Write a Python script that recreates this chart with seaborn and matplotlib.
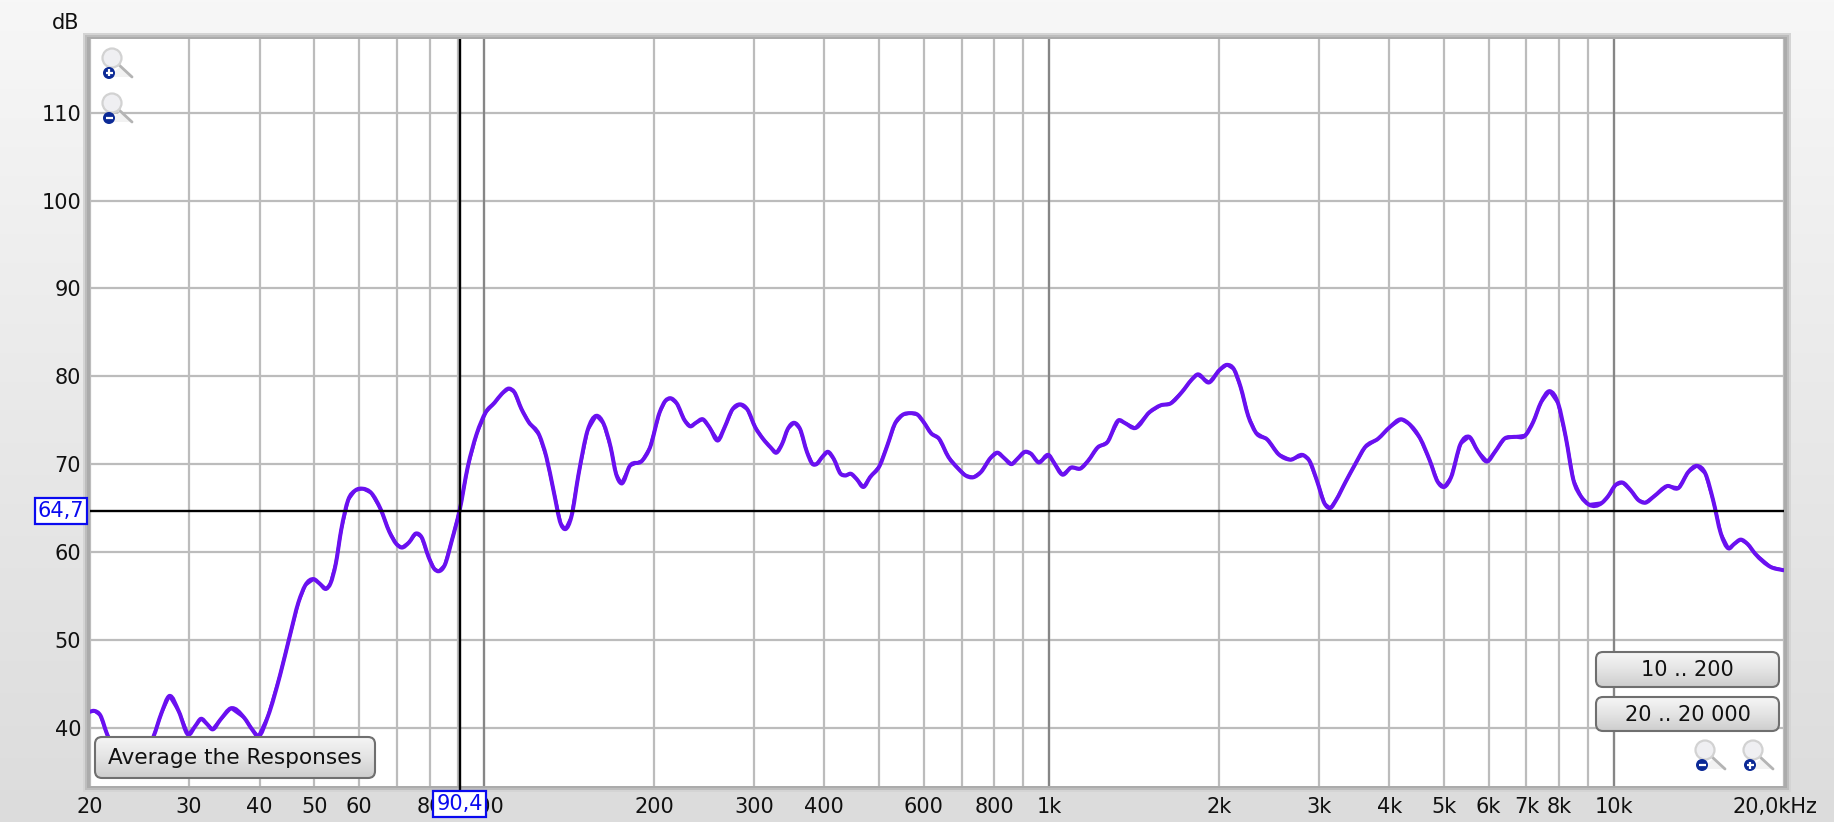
import numpy as np
import pandas as pd
import matplotlib
matplotlib.use("Agg")
import matplotlib.pyplot as plt
from matplotlib.patches import FancyBboxPatch, Circle, Polygon, Rectangle, PathPatch
from matplotlib.path import Path
from matplotlib.transforms import blended_transform_factory
import seaborn as sns

freq_hz = [20, 20.4, 20.9, 21.5, 22.5, 23.5, 24.6, 25.97, 26.8, 27.7, 28.8, 29.9, 30.8, 31.5, 32.3, 33.0, 34.1, 35.6, 37.6, 38.8, 39.8, 41.4, 43.5,
           45.2, 46.9, 48.2, 49.9, 51.1, 52.5, 53.4, 54.6, 55.8, 57.4, 59.1, 60.9, 63.1, 65.5, 67.9, 69.9, 71.4, 73.6, 75.7, 77.4, 79.7, 81.5, 83.0, 85.1, 87.6, 90.4, 93.5, 96.9,
           100.6, 104.3, 107.4, 110.6, 113, 116.3, 119.8, 125.1, 128.8, 132.6, 136.6, 139.2, 142.6, 146.9, 152.3, 157.9, 162.6, 167.4, 171.1, 174.9, 181, 190.4, 196.5,
           204.4, 209.2, 213.5, 219.2, 226.2, 231.5, 236.9, 243.8, 250.3, 259.4, 266.4, 274.8, 283.6, 292.4, 301.7, 311.3, 321.3, 328.9, 336.7, 344.6, 353.8, 362.2, 372.5, 381.3, 387.4, 396.5,
           405.9, 415.5, 427.3, 435.4, 445.7, 456.2, 469.2, 481.8, 501, 516.9, 533.3, 550.1, 567.6, 585.6, 599.3, 618.3, 638.1, 663.4, 690, 711.5, 734.1, 757.4, 787.5, 810, 832, 858.4, 878.7, 906.3, 927.8, 957.2,
           1000, 1019, 1056, 1093, 1137, 1173, 1219, 1268, 1328, 1360, 1420, 1505, 1577, 1640, 1718, 1787, 1829, 1920, 2002, 2065, 2124, 2182, 2251, 2322, 2433, 2550, 2672, 2822, 2888, 2980,
           3074, 3147, 3221, 3350, 3483, 3622, 3825, 4008, 4200, 4334, 4540, 4720, 4873, 5004, 5147, 5350, 5545, 5738, 5966, 6156, 6400, 6655, 6975, 7195, 7423, 7694, 7965, 8214, 8476, 8745, 9021, 9528, 9754,
           10060, 10350, 10710, 11050, 11350, 11760, 12420, 13020, 13540, 14030, 14520, 14980, 15460, 15950, 16320, 16760, 17240, 17780, 18930, 20000]
level_db = [41.8, 41.9, 41.4, 39.2, 36.8, 35.6, 36.5, 39.0, 41.6, 43.6, 41.8, 39.2, 40.2, 41.0, 40.4, 39.8, 40.9, 42.2, 41.1, 39.8, 39.0, 41.3, 46.0,
            50.3, 54.3, 56.2, 56.9, 56.4, 55.8, 56.4, 58.7, 62.5, 65.9, 67.0, 67.2, 66.7, 64.9, 62.3, 60.9, 60.5, 61.1, 62.1, 61.7, 59.4, 58.1, 57.8, 58.5, 61.3, 64.7, 69.7, 73.4,
            75.9, 77.0, 78.0, 78.6, 78.2, 76.3, 74.8, 73.3, 70.8, 67.0, 63.2, 62.6, 64.0, 68.9, 73.8, 75.5, 74.6, 71.9, 68.9, 67.8, 69.8, 70.4, 71.9,
            75.9, 77.2, 77.5, 76.9, 75.0, 74.3, 74.7, 75.1, 74.2, 72.7, 74.2, 76.2, 76.8, 76.2, 74.2, 72.9, 71.9, 71.3, 72.3, 74.0, 74.7, 74.0, 71.4, 70.0, 70.0, 70.8,
            71.4, 70.6, 68.9, 68.7, 68.9, 68.3, 67.4, 68.5, 69.8, 72.1, 74.6, 75.6, 75.8, 75.6, 74.8, 73.5, 72.9, 70.8, 69.5, 68.7, 68.5, 69.1, 70.7, 71.3, 70.7, 70.0, 70.6, 71.4, 71.2, 70.2,
            71.0, 70.2, 68.8, 69.6, 69.5, 70.4, 71.9, 72.5, 75.0, 74.7, 74.1, 75.9, 76.7, 76.9, 78.2, 79.6, 80.2, 79.3, 80.7, 81.3, 80.8, 78.8, 75.5, 73.6, 72.8, 71.1, 70.5, 71.0, 70.4, 68.1,
            65.5, 65.0, 65.9, 68.0, 70.0, 71.9, 72.9, 74.2, 75.1, 74.6, 72.9, 70.4, 68.0, 67.4, 68.5, 72.3, 73.1, 71.5, 70.3, 71.4, 72.9, 73.1, 73.3, 74.8, 77.0, 78.3, 76.9, 73.1, 68.2, 66.3, 65.4, 65.6, 66.3,
            67.6, 67.9, 67.0, 65.9, 65.6, 66.3, 67.5, 67.3, 69.1, 69.8, 68.9, 65.9, 62.1, 60.4, 60.9, 61.4, 60.9, 59.8, 58.3, 57.9]

x_ticks = [20, 30, 40, 50, 60, 70, 80, 90, 100, 200, 300, 400, 500, 600, 700, 800, 900,
           1000, 2000, 3000, 4000, 5000, 6000, 7000, 8000, 9000, 10000, 20000]
x_labels = ["20", "30", "40", "50", "60", "", "80", "", "100", "200", "300", "400", "", "600", "", "800", "",
            "1k", "2k", "3k", "4k", "5k", "6k", "7k", "8k", "", "10k", ""]
decades = [100, 1000, 10000]
y_ticks = [40, 50, 60, 70, 80, 90, 100, 110]
cursor_x, cursor_y = 90.4, 64.7
cursor_x_text, cursor_y_text = "90,4", "64,7"
buttons = ["Average the Responses", "10 .. 200", "20 .. 20 000"]

W, H = 1834, 822
sns.set_theme(style="white")
plt.rcParams['font.family'] = ['DejaVu Sans']
TXT = "#111111"
FS = 15
CURVE = "#6a10f0"

fig = plt.figure(figsize=(W / 100, H / 100), dpi=100)

# background, pixel coordinates
bg = fig.add_axes([0, 0, 1, 1], zorder=0)
bg.set_xlim(0, W); bg.set_ylim(H, 0); bg.axis("off")
grad = np.linspace(0, 1, 256).reshape(-1, 1)
bg.imshow(grad, extent=[0, W, H, 0], aspect="auto", cmap=matplotlib.colors.LinearSegmentedColormap.from_list("b", ["#f7f7f7", "#e9e9e9", "#dcdcdc"]), zorder=0)
for inset, c in [(0, "#d4d4d4"), (2, "#bdbdbd"), (4, "#ababab")]:
    bg.add_patch(Rectangle((83 + inset, 33 + inset), 1708 - 2 * inset, 759 - 2 * inset, fc=c, ec="none", zorder=1))

L, R, T, B = 89.5, 1784.0, 39.0, 786.0
ax = fig.add_axes([L / W, 1 - B / H, (R - L) / W, (B - T) / H], zorder=1)
ax.set_facecolor("white")

df = pd.DataFrame({"freq": freq_hz, "db": level_db})
sns.lineplot(data=df, x="freq", y="db", ax=ax, color=CURVE, linewidth=2.2, zorder=4, errorbar=None, estimator=None, sort=False)
ax.set_xscale("log")
ax.set_xlim(20, 20000)
ax.set_ylim(33.35, 118.4)

# same points drawn with a rounded curve style (Bezier segments between readings)
lx = np.log10(df["freq"].to_numpy())
ly = df["db"].to_numpy()
slopes = np.gradient(ly, lx)
verts = [(df["freq"].iloc[0], ly[0])]
codes = [Path.MOVETO]
for i in range(len(lx) - 1):
    h = (lx[i + 1] - lx[i]) / 3
    verts += [(10 ** (lx[i] + h), ly[i] + slopes[i] * h),
              (10 ** (lx[i + 1] - h), ly[i + 1] - slopes[i + 1] * h),
              (10 ** lx[i + 1], ly[i + 1])]
    codes += [Path.CURVE4] * 3
ax.add_patch(PathPatch(Path(verts, codes), fc="none", ec=CURVE, lw=2.9, zorder=4.1, joinstyle="round"))

ax.set_xticks(x_ticks)
ax.set_xticklabels(x_labels)
ax.set_yticks(y_ticks)
ax.set_yticklabels([str(v) for v in y_ticks])
ax.minorticks_off()
ax.tick_params(axis="both", length=0, labelsize=FS, labelcolor=TXT)
ax.tick_params(axis="x", pad=8)
ax.tick_params(axis="y", pad=6)
ax.set_xlabel(""); ax.set_ylabel("")
ax.grid(True, color="#bcbcbc", linewidth=1.6, zorder=1)
ax.set_axisbelow(True)
for d in decades:
    ax.axvline(d, color="#868686", linewidth=1.6, zorder=2)
for s in ax.spines.values():
    s.set_visible(False)

# cursor
ax.axvline(cursor_x, color="black", linewidth=1.7, zorder=5)
ax.axhline(cursor_y, color="black", linewidth=1.7, zorder=5)
xt = blended_transform_factory(ax.transData, ax.transAxes)
yt = blended_transform_factory(ax.transAxes, ax.transData)
ax.plot([cursor_x, cursor_x], [0, -0.02], transform=xt, color="black", lw=1.7, clip_on=False, zorder=5)
box = dict(boxstyle="square,pad=0.14", fc="white", ec="#0a0af0", lw=1.6)
ax.text(cursor_x, -0.0245, cursor_x_text, transform=xt, ha="center", va="center", fontsize=FS, color="#0a0af0", bbox=box, zorder=10, clip_on=False)
ax.text(-0.0032, cursor_y, cursor_y_text, transform=yt, ha="right", va="center", fontsize=FS, color="#0a0af0", bbox=box, zorder=10, clip_on=False)

ax.text(-0.0058, 1.022, "dB", transform=ax.transAxes, ha="right", va="center", fontsize=FS, color=TXT, clip_on=False)
ax.text(1.0 + 33 / (R - L), -0.0285, "20,0kHz", transform=ax.transAxes, ha="right", va="center", fontsize=FS, color=TXT, clip_on=False)

# interface widgets, pixel coordinates
ui = fig.add_axes([0, 0, 1, 1], zorder=2)
ui.set_xlim(0, W); ui.set_ylim(H, 0); ui.axis("off"); ui.patch.set_alpha(0)
btn_cmap = matplotlib.colors.LinearSegmentedColormap.from_list("g", ["#f6f6f6", "#e4e4e4", "#cdcdcd"])

def button(x0, y0, x1, y1, label, fs):
    p = FancyBboxPatch((x0 + 6, y0 + 6), x1 - x0 - 12, y1 - y0 - 12, boxstyle="round,pad=6,rounding_size=7",
                       fc="none", ec="#6f6f6f", lw=1.5, zorder=6)
    ui.add_patch(p)
    im = ui.imshow(grad, extent=[x0, x1, y1, y0], aspect="auto", cmap=btn_cmap, zorder=5)
    im.set_clip_path(p)
    ui.text((x0 + x1) / 2, (y0 + y1) / 2 + 0.5, label, ha="center", va="center", fontsize=fs, color=TXT, zorder=7)

button(95, 737, 375, 778, buttons[0], 15.6)
button(1596, 652, 1779, 687, buttons[1], FS)
button(1596, 697, 1779, 731, buttons[2], FS)
ui.set_xlim(0, W); ui.set_ylim(H, 0)

def magnifier(cx, cy, plus):
    ui.add_patch(Polygon([[cx - 3, cy + 19], [cx + 22, cy + 19], [cx + 9, cy + 8]], fc="#f2f2f2", ec="none", zorder=5))
    ui.plot([cx + 6, cx + 20], [cy + 6, cy + 19], color="#b4b4b4", lw=2, zorder=6, solid_capstyle="round")
    ui.add_patch(Circle((cx, cy), 9.5, fc="#efeff2", ec="#d2d2d2", lw=1.6, zorder=6))
    ui.add_patch(Circle((cx - 3, cy + 15), 6, fc="#0c2a96", ec="none", zorder=7))
    ui.plot([cx - 6.5, cx + 0.5], [cy + 15, cy + 15], color="white", lw=1.6, zorder=8, solid_capstyle="butt")
    if plus:
        ui.plot([cx - 3, cx - 3], [cy + 11.5, cy + 18.5], color="white", lw=1.6, zorder=8, solid_capstyle="butt")

magnifier(112, 58, True)
magnifier(112, 103, False)
magnifier(1705, 750, False)
magnifier(1753, 750, True)

fig.savefig("out.png", dpi=100)
